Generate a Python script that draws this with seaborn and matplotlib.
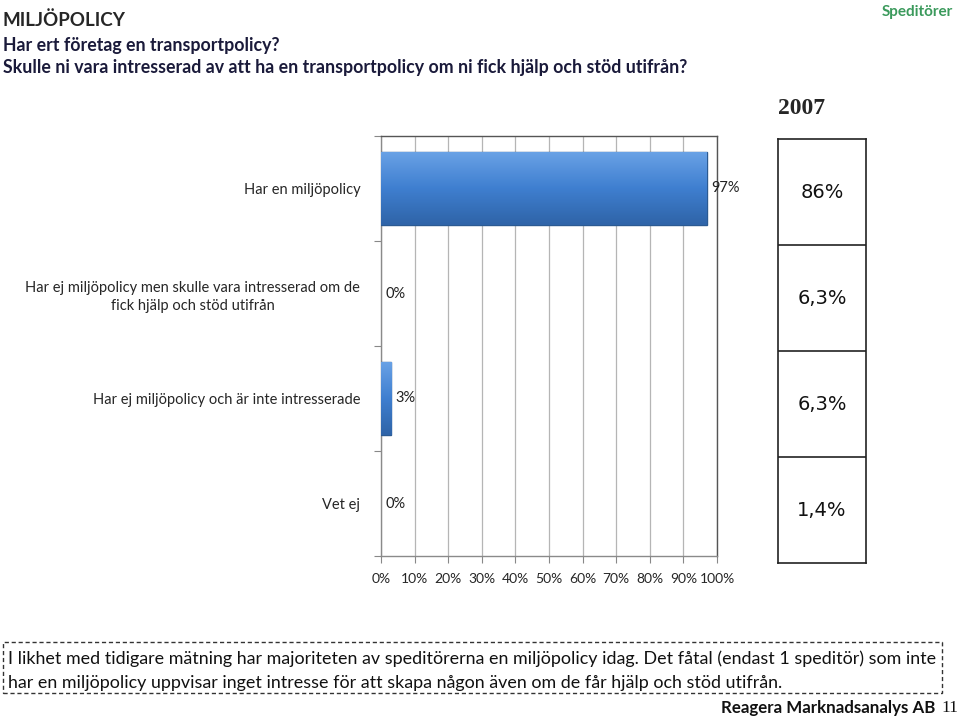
import matplotlib
matplotlib.use("Agg")
import matplotlib.pyplot as plt
import seaborn as sns
import numpy as np
import pandas as pd
from matplotlib.patches import Rectangle
from matplotlib.colors import LinearSegmentedColormap

categories = [
    "Har en miljöpolicy",
    "Har ej miljöpolicy men skulle vara intresserad om de\nfick hjälp och stöd utifrån",
    "Har ej miljöpolicy och är inte intresserade",
    "Vet ej",
]
values_2008 = [97, 0, 3, 0]
labels_2008 = ["97%", "0%", "3%", "0%"]
values_2007 = ["86%", "6,3%", "6,3%", "1,4%"]
xtick_vals = [0, 10, 20, 30, 40, 50, 60, 70, 80, 90, 100]
xtick_labels = ["0%", "10%", "20%", "30%", "40%", "50%", "60%", "70%", "80%", "90%", "100%"]

sns.set_theme(style="white")
plt.rcParams['font.family'] = ['Lato', 'DejaVu Sans']

fig = plt.figure(figsize=(9.6, 7.19), dpi=100)
ax = fig.add_axes([381/960, 1-556/719, 336/960, 420/719])

df = pd.DataFrame({"cat": categories, "val": values_2008})
sns.barplot(data=df, x="val", y="cat", color="#3d7acb", width=0.7,
            edgecolor="#2b5a92", linewidth=1.0, ax=ax, zorder=3)

# gradient shading on bars
grad = np.linspace(0, 1, 100).reshape(-1, 1)
cmap = LinearSegmentedColormap.from_list("g", ["#6aa2e6", "#3f7fd0", "#2f64a8"])
for p in ax.patches:
    x0, y0 = p.get_x(), p.get_y()
    w, h = p.get_width(), p.get_height()
    if w <= 0:
        p.set_edgecolor("none")
        continue
    im = ax.imshow(grad, extent=[x0, x0 + w, y0 + h, y0], aspect="auto",
                   cmap=cmap, zorder=3.5, origin="upper")
    im.set_clip_path(p)

ax.set_xlim(0, 100)
ax.set_ylim(3.5, -0.5)
ax.set_xticks(xtick_vals)
ax.set_xticklabels(xtick_labels, fontsize=10)
ax.set_xlabel("")
ax.set_ylabel("")
ax.set_yticks(range(len(categories)))
ax.set_yticklabels(categories, fontsize=10.5, linespacing=1.35, ha="right",
                   multialignment="center")
ax.tick_params(axis="y", length=0, pad=15)
ax.set_yticks([-0.5, 0.5, 1.5, 2.5, 3.5], minor=True)
ax.tick_params(axis="y", which="minor", length=5, color="#888888", width=0.8, left=True)
ax.tick_params(axis="x", length=5, color="#888888", width=0.8, bottom=True, pad=7)
ax.grid(axis="x", color="#b5b5b5", linewidth=0.9, zorder=0)
ax.set_axisbelow(True)
for s in ["left", "bottom"]:
    ax.spines[s].set_color("#8a8a8a")
    ax.spines[s].set_linewidth(1.0)
for s in ["top", "right"]:
    ax.spines[s].set_color("#555555")
    ax.spines[s].set_linewidth(1.0)

for i, (v, lab) in enumerate(zip(values_2008, labels_2008)):
    ax.text(v + 1.2, i, lab, va="center", ha="left", fontsize=10.5, color="#222222", zorder=5)

# 2007 table
tax = fig.add_axes([778/960, 1-563/719, 88/960, 424/719])
tax.set_xlim(0, 1)
tax.set_ylim(len(values_2007), 0)
tax.set_xticks([])
tax.set_yticks([])
for s in tax.spines.values():
    s.set_color("#222222")
    s.set_linewidth(1.2)
for i, v in enumerate(values_2007):
    tax.text(0.5, i + 0.5, v, ha="center", va="center", fontsize=14,
             family="DejaVu Sans", color="#111111")
    if i > 0:
        tax.axhline(i, color="#222222", linewidth=1.2)
fig.text(802/960, 1-108/719, "2007", ha="center", va="center", fontsize=17,
         fontweight="bold", family="Liberation Serif")

# headings
fig.text(3/960, 1-20/719, "MILJÖPOLICY", fontsize=13.5, fontweight="bold", va="center", ha="left")
fig.text(3/960, 1-45/719, "Har ert företag en transportpolicy?", fontsize=12.8,
         fontweight="bold", va="center", ha="left", color="#1a1a3a")
fig.text(3/960, 1-68/719, "Skulle ni vara intresserad av att ha en transportpolicy om ni fick hjälp och stöd utifrån?",
         fontsize=12.8, fontweight="bold", va="center", ha="left", color="#1a1a3a")
fig.text(953/960, 1-12/719, "Speditörer", fontsize=11, fontweight="bold", va="center",
         ha="right", color="#3b9a5c")

# dashed comment box
box = Rectangle((3/960, 1-693/719), 939/960, 51/719, transform=fig.transFigure,
                fill=False, edgecolor="#333333", linestyle=(0, (3, 2)), linewidth=1.0)
fig.patches.append(box)
fig.text(8/960, 1-659/719,
         "I likhet med tidigare mätning har majoriteten av speditörerna en miljöpolicy idag. Det fåtal (endast 1 speditör) som inte",
         fontsize=12.9, va="center", ha="left", color="#111111")
fig.text(8/960, 1-683/719,
         "har en miljöpolicy uppvisar inget intresse för att skapa någon även om de får hjälp och stöd utifrån.",
         fontsize=12.9, va="center", ha="left", color="#111111")

fig.text(935/960, 1-708/719, "Reagera Marknadsanalys AB", fontsize=12.2, fontweight="bold",
         va="center", ha="right", color="#111111")
fig.text(958/960, 1-708/719, "11", fontsize=12.5, va="center", ha="right",
         family="Liberation Serif", color="#111111")

fig.savefig("out.png", dpi=100)
